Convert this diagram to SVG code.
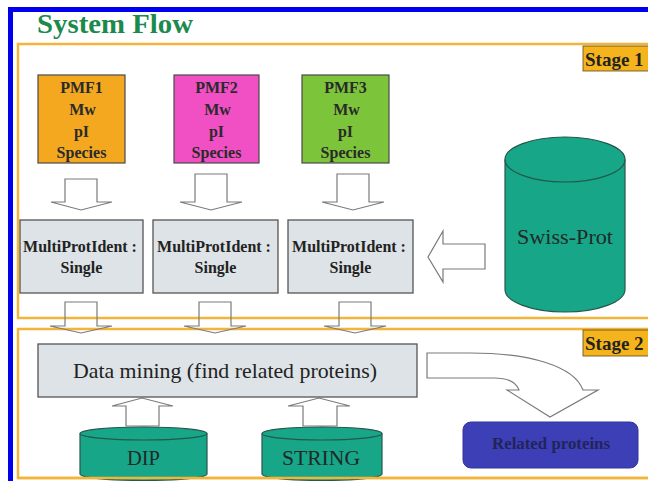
<svg xmlns="http://www.w3.org/2000/svg" width="648" height="481" viewBox="0 0 648 481">
<style>
  .serif { font-family: "Liberation Serif", "DejaVu Serif", serif; }
  .b { font-weight: bold; }
  .pmf { stroke: #4a4a4a; stroke-width: 1.2; }
  .pmftxt { font-family: "Liberation Serif", "DejaVu Serif", serif; font-weight: bold; font-size: 16px; fill: #2a2a2a; text-anchor: middle; }
  .proc { fill: #dde3e6; stroke: #555; stroke-width: 1.3; }
  .proctxt { font-family: "Liberation Serif", "DejaVu Serif", serif; font-weight: bold; font-size: 16px; fill: #222; text-anchor: middle; }
  .db { fill: #17a688; stroke: #24584c; stroke-width: 1.2; }
  .dbtxt { font-family: "Liberation Serif", "DejaVu Serif", serif; font-size: 21px; fill: #1f2a28; text-anchor: middle; }
  .arrow { fill: #fff; stroke: #7a7a7a; stroke-width: 1.2; stroke-linejoin: miter; }
  .arrowx { fill: none; stroke: #7a7a7a; stroke-width: 1.2; }
  .stage { fill: none; stroke: #f2b53a; stroke-width: 2.5; }
  .stagelbl { fill: #f6b41c; stroke: #5a4a20; stroke-width: 0.8; }
  .stagetxt { font-family: "Liberation Serif", "DejaVu Serif", serif; font-weight: bold; font-size: 19px; fill: #222; }
</style>

<rect width="648" height="481" fill="#fff"/>
<rect x="10.5" y="9.5" width="700" height="600" fill="none" stroke="#0000ee" stroke-width="5"/>
<text x="37" y="33" class="serif b" font-size="27" fill="#1b8a4c" textLength="156" lengthAdjust="spacingAndGlyphs">System Flow</text>

<g id="stage1">
  <rect x="18" y="44" width="660" height="274" class="stage" stroke="#f6c768"/>
  <rect x="583" y="46" width="70" height="25" class="stagelbl"/>
  <text x="585" y="66" class="stagetxt">Stage 1</text>
</g>
<g id="stage2">
  <rect x="18" y="329" width="660" height="149" class="stage"/>
  <rect x="583" y="330" width="70" height="26" class="stagelbl"/>
  <text x="585" y="350" class="stagetxt">Stage 2</text>
</g>

<g id="connectors">
  <path class="arrow" d="M65,179 H97 V202 H112 L81,210 L51,202 H65 Z"/>
  <path class="arrow" d="M195,174 H227 V202 H242 L211,210 L180,202 H195 Z"/>
  <path class="arrow" d="M337,174 H369 V202 H384 L353,210 L322,202 H337 Z"/>
  <path class="arrowx" d="M65,302 H97 V326 H112 L81,333 L50,326 H65 Z"/>
  <path class="arrowx" d="M199,302 H231 V326 H246 L215,333 L184,326 H199 Z"/>
  <path class="arrowx" d="M339,302 H371 V326 H386 L355,333 L324,326 H339 Z"/>
  <path class="arrow" d="M485,244 V269 H443 V282 L428,257 L443,231 V244 Z"/>
  <path class="arrow" d="M126,426 V406 H112 L142,398 L173,406 H159 V426 Z"/>
  <path class="arrow" d="M303,426 V406 H288 L319,398 L350,406 H337 V426 Z"/>
  <path class="arrow" d="M427,353 H470 C530,353 574,366 583,390 H598 L550,417 L507,390 H519 C516,382 508,378 494,378 H427 Z"/>
</g>

<g id="pmf1">
  <rect x="38" y="75" width="87" height="88" fill="#f4a81f" class="pmf"/>
  <text class="pmftxt"><tspan x="81.5" y="93">PMF1</tspan><tspan x="82.5" y="115">Mw</tspan><tspan x="81.5" y="137">pI</tspan><tspan x="81.5" y="158">Species</tspan></text>
</g>
<g id="pmf2">
  <rect x="174" y="75" width="85" height="88" fill="#f150c4" class="pmf"/>
  <text class="pmftxt"><tspan x="216.5" y="93">PMF2</tspan><tspan x="217.5" y="115">Mw</tspan><tspan x="216.5" y="137">pI</tspan><tspan x="216.5" y="158">Species</tspan></text>
</g>
<g id="pmf3">
  <rect x="302" y="75" width="87" height="88" fill="#7cc43a" class="pmf"/>
  <text class="pmftxt"><tspan x="345.5" y="93">PMF3</tspan><tspan x="346.5" y="115">Mw</tspan><tspan x="345.5" y="137">pI</tspan><tspan x="345.5" y="158">Species</tspan></text>
</g>

<g id="mpi1">
  <rect x="20" y="220" width="123" height="73" class="proc"/>
  <text class="proctxt"><tspan x="80" y="252">MultiProtIdent :</tspan><tspan x="81.5" y="273">Single</tspan></text>
</g>
<g id="mpi2">
  <rect x="153" y="220" width="125" height="73" class="proc"/>
  <text class="proctxt"><tspan x="214" y="252">MultiProtIdent :</tspan><tspan x="215.5" y="273">Single</tspan></text>
</g>
<g id="mpi3">
  <rect x="288" y="220" width="125" height="73" class="proc"/>
  <text class="proctxt"><tspan x="349" y="252">MultiProtIdent :</tspan><tspan x="350.5" y="273">Single</tspan></text>
</g>

<g id="swissprot">
  <path class="db" d="M505,159.5 V289.5 A60,22.5 0 0 0 625,289.5 V159.5"/>
  <ellipse cx="565" cy="159.5" rx="60" ry="22.5" class="db"/>
  <text x="565" y="244" class="dbtxt" textLength="96" lengthAdjust="spacingAndGlyphs">Swiss-Prot</text>
</g>

<g id="datamining">
  <rect x="38" y="344" width="379" height="53" class="proc"/>
  <text x="225" y="378" class="serif" font-size="21.5" fill="#222" text-anchor="middle" textLength="304" lengthAdjust="spacingAndGlyphs">Data mining (find related proteins)</text>
</g>

<g id="dip">
  <path class="db" d="M80,433.5 V474 A63.5,6.5 0 0 0 207,474 V433.5"/>
  <ellipse cx="143.5" cy="433.5" rx="63.5" ry="6.5" class="db"/>
  <text x="143.5" y="465" class="dbtxt" textLength="33" lengthAdjust="spacingAndGlyphs">DIP</text>
</g>
<g id="string">
  <path class="db" d="M262,433.5 V474 A60,6.5 0 0 0 382,474 V433.5"/>
  <ellipse cx="322" cy="433.5" rx="60" ry="6.5" class="db"/>
  <text x="321" y="465" class="dbtxt" textLength="78" lengthAdjust="spacingAndGlyphs">STRING</text>
</g>

<g id="related">
  <rect x="463" y="422" width="175" height="46" rx="8" fill="#3d3fb6" stroke="#33359a" stroke-width="1"/>
  <text x="551" y="449" class="serif b" font-size="16" fill="#22245a" text-anchor="middle" textLength="118" lengthAdjust="spacingAndGlyphs">Related proteins</text>
</g>

<line x1="18" y1="478" x2="648" y2="478" stroke="#f2b53a" stroke-width="2.5"/>
</svg>
